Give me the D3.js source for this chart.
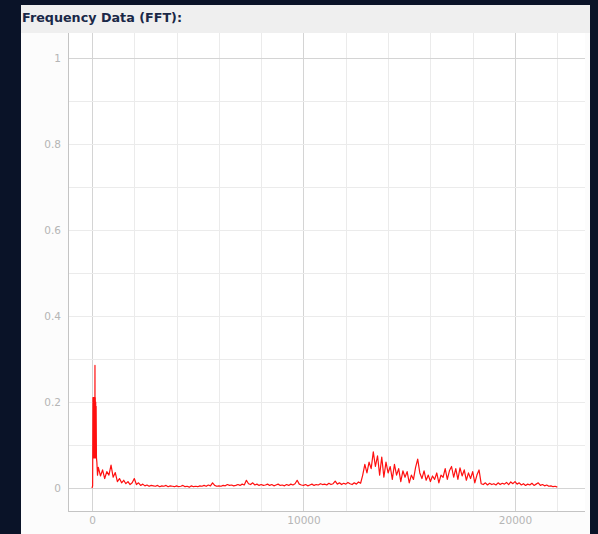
<!DOCTYPE html>
<html>
<head>
<meta charset="utf-8">
<script src="https://cdn.jsdelivr.net/npm/d3@7"></script>
<style>
  html, body { margin: 0; padding: 0; background: #0a1328; }
  svg { display: block; }
</style>
</head>
<body>
<svg id="chart" width="598" height="534"></svg>
<script>
// ---- data ----
const title = "Frequency Data (FFT):";
const xTickValues = [0, 10000, 20000];
const xTickLabels = ["0", "10000", "20000"];
const yTickValues = [0, 0.2, 0.4, 0.6, 0.8, 1];
const yTickLabels = ["0", "0.2", "0.4", "0.6", "0.8", "1"];

// low-frequency region (Hz) – dense samples around the spike
const spikeFreq = [0, 30, 45, 55, 65, 75, 85, 95, 105, 115, 125, 135, 140, 145, 155, 165, 175, 185, 195, 210, 230, 260];
const spikeAmp  = [0, 0.005, 0.21, 0.07, 0.21, 0.08, 0.21, 0.07, 0.21, 0.08, 0.2, 0.1, 0.285, 0.07, 0.21, 0.08, 0.2, 0.07, 0.19, 0.07, 0.06, 0.03];

// remaining spectrum in 100 Hz bins starting at 300 Hz
const binStartHz = 300;
const binHz = 100;
const binAmp = [
  // 300 - 2400
  0.048, 0.028, 0.042, 0.022, 0.038, 0.03, 0.053,
  0.025, 0.036, 0.015, 0.022, 0.012, 0.018, 0.01, 0.015, 0.008, 0.012,
  0.022, 0.008, 0.012, 0.006, 0.009,
  // 2500 - 2900
  0.005, 0.007, 0.004, 0.006, 0.005,
  // 3000s
  0.004, 0.006, 0.003, 0.005, 0.004, 0.006, 0.003, 0.005, 0.004, 0.003,
  // 4000s
  0.005, 0.003, 0.004, 0.006, 0.003, 0.004, 0.002, 0.005, 0.003, 0.004,
  // 5000s
  0.003, 0.005, 0.004, 0.006, 0.004, 0.007, 0.005, 0.012, 0.006, 0.004,
  // 6000s
  0.005, 0.004, 0.006, 0.005, 0.008, 0.006, 0.007, 0.005, 0.006, 0.008,
  // 7000s
  0.006, 0.009, 0.007, 0.018, 0.01, 0.008, 0.012, 0.007, 0.009, 0.006,
  // 8000s
  0.008, 0.006, 0.007, 0.009, 0.006, 0.008, 0.005, 0.007, 0.009, 0.006,
  // 9000s
  0.007, 0.005, 0.008, 0.006, 0.009, 0.007, 0.01, 0.018, 0.009, 0.007,
  // 10000s
  0.006, 0.008, 0.005, 0.007, 0.009, 0.006, 0.008, 0.007, 0.01, 0.008,
  // 11000s
  0.009, 0.007, 0.011, 0.008, 0.01, 0.016, 0.009, 0.012, 0.008, 0.011,
  // 12000 - 12700
  0.009, 0.013, 0.01, 0.008, 0.012, 0.009, 0.014, 0.011,
  // 12800 - 12900
  0.03, 0.055,
  // 13000s
  0.035, 0.06, 0.045, 0.084, 0.05, 0.075, 0.03, 0.072, 0.025, 0.06,
  // 14000s
  0.035, 0.05, 0.02, 0.055, 0.03, 0.045, 0.015, 0.04, 0.025, 0.038,
  // 15000s
  0.012, 0.03, 0.02, 0.048, 0.067, 0.035, 0.022, 0.04, 0.018, 0.03,
  // 16000s
  0.015, 0.028, 0.02, 0.035, 0.012, 0.03, 0.025, 0.045, 0.02, 0.04,
  // 17000s
  0.05, 0.025, 0.045, 0.02, 0.047, 0.028, 0.042, 0.018, 0.035, 0.022,
  // 18000s
  0.038, 0.012, 0.03, 0.042, 0.01, 0.008, 0.012, 0.007, 0.011, 0.008,
  // 19000s
  0.01, 0.007, 0.012, 0.008, 0.011, 0.009, 0.013, 0.008, 0.014, 0.01,
  // 20000s
  0.015, 0.009, 0.012, 0.007, 0.01, 0.006, 0.009, 0.007, 0.011, 0.006,
  // 21000s
  0.009, 0.012, 0.006, 0.008, 0.005, 0.007, 0.004, 0.005, 0.003, 0.004,
  // 22000
  0.002
];

// ---- build series ----
const series = spikeFreq.map((f, i) => ({ f: f, a: spikeAmp[i] }))
  .concat(binAmp.map((a, i) => ({ f: binStartHz + i * binHz, a: a })));

// ---- layout ----
const svg = d3.select("#chart");
const panel = { x: 21, y: 5, w: 569, h: 540 };
const plot = { left: 68, right: 585, top: 33, bottom: 511 };

svg.append("rect").attr("x", panel.x).attr("y", panel.y).attr("width", panel.w).attr("height", panel.h)
  .attr("fill", "#fcfcfc");
svg.append("rect").attr("x", panel.x).attr("y", panel.y).attr("width", panel.w).attr("height", plot.top - panel.y)
  .attr("fill", "#efefef");

svg.append("text").attr("x", 22).attr("y", 22)
  .attr("font-family", "DejaVu Sans, Verdana, sans-serif").attr("font-weight", "bold")
  .attr("font-size", "11.5px").attr("fill", "#1a2847")
  .attr("textLength", 160).attr("lengthAdjust", "spacingAndGlyphs").text(title);

const x = d3.scaleLinear().domain([-1135, 23310]).range([plot.left, plot.right]);
// 0 -> 488 px and 1 -> 58 px
const y = d3.scaleLinear().domain([(488 - plot.bottom) / 430, (488 - plot.top) / 430]).range([plot.bottom, plot.top]);

svg.append("rect").attr("x", plot.left).attr("y", plot.top)
  .attr("width", plot.right - plot.left).attr("height", plot.bottom - plot.top).attr("fill", "#ffffff");

// grid
const gridX = d3.range(0, 23000, 2000);
const gridY = d3.range(0, 11).map(d => d / 10);
const g = svg.append("g");
g.selectAll("line.gx").data(gridX).join("line")
  .attr("x1", d => Math.round(x(d)) + 0.5).attr("x2", d => Math.round(x(d)) + 0.5)
  .attr("y1", plot.top).attr("y2", plot.bottom)
  .attr("stroke", d => xTickValues.includes(d) ? "#d4d4d4" : "#ebebeb").attr("stroke-width", 1);
g.selectAll("line.gy").data(gridY).join("line")
  .attr("x1", plot.left).attr("x2", plot.right)
  .attr("y1", d => Math.round(y(d)) + 0.5).attr("y2", d => Math.round(y(d)) + 0.5)
  .attr("stroke", d => (d === 0 || d === 1) ? "#d4d4d4" : "#ebebeb").attr("stroke-width", 1);

// axes lines
svg.append("line").attr("x1", plot.left + 0.5).attr("x2", plot.left + 0.5).attr("y1", plot.top).attr("y2", plot.bottom)
  .attr("stroke", "#c4c4c4");
svg.append("line").attr("x1", plot.left).attr("x2", plot.right).attr("y1", plot.bottom + 0.5).attr("y2", plot.bottom + 0.5)
  .attr("stroke", "#c4c4c4");

// tick labels via d3 axes
const yAxis = d3.axisLeft(y).tickValues(yTickValues).tickSize(0).tickPadding(7)
  .tickFormat((d, i) => yTickLabels[i]);
const xAxis = d3.axisBottom(x).tickValues(xTickValues).tickSize(0).tickPadding(6)
  .tickFormat((d, i) => xTickLabels[i]);
const ya = svg.append("g").attr("transform", `translate(${plot.left},0)`).call(yAxis);
const xa = svg.append("g").attr("transform", `translate(0,${plot.bottom})`).call(xAxis);
[ya, xa].forEach(a => {
  a.select(".domain").remove();
  a.selectAll("text").attr("fill", "#b5b5b5").attr("font-size", "10.5px")
    .attr("font-family", "DejaVu Sans, Verdana, sans-serif");
});

// data line
const line = d3.line().x(d => x(d.f)).y(d => y(d.a));
svg.append("path").datum(series).attr("d", line)
  .attr("fill", "none").attr("stroke", "#ff1010").attr("stroke-width", 1.2).attr("stroke-linejoin", "round");
</script>
</body>
</html>
